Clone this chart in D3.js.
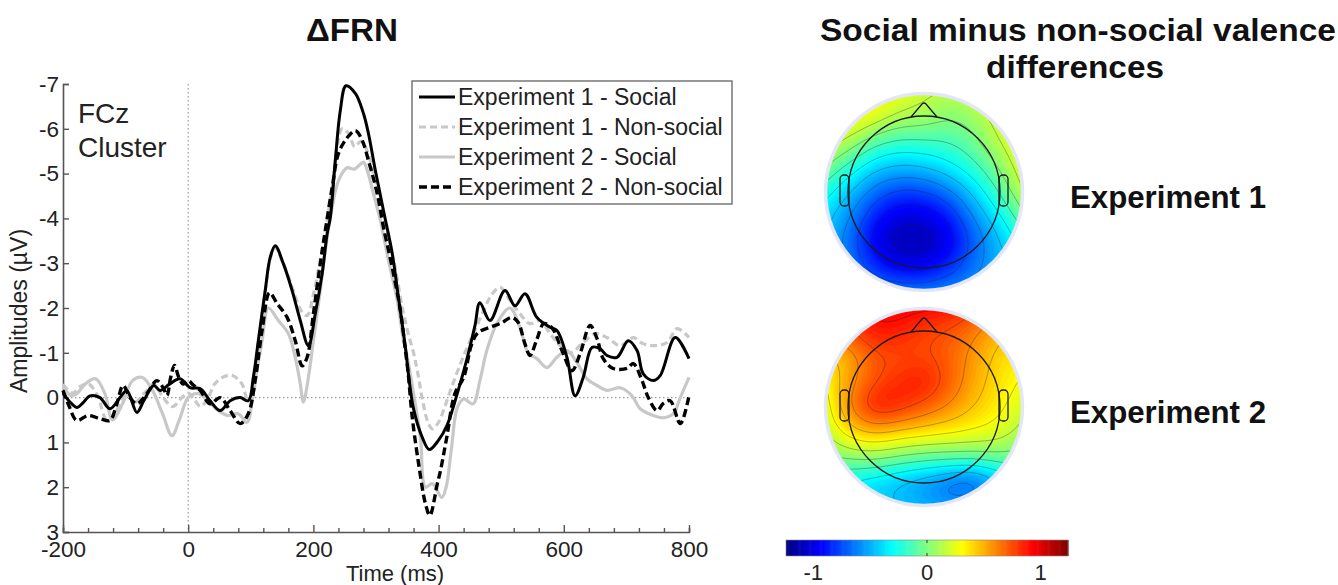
<!DOCTYPE html>
<html><head><meta charset="utf-8">
<script src="https://cdn.jsdelivr.net/npm/d3@7"></script>
<style>
body{margin:0;background:#fff;}
svg{display:block;font-family:"Liberation Sans",Arial,sans-serif;}
</style>
</head><body>
<svg id="c" width="1338" height="585"></svg>
<script>
// ---------- DATA ----------
const timeTickValues = [-200,0,200,400,600,800];
const ampTickValues = [-7,-6,-5,-4,-3,-2,-1,0,1,2,3];
const legendLabels = ["Experiment 1 - Social","Experiment 1 - Non-social","Experiment 2 - Social","Experiment 2 - Non-social"];

const exp1Social = [[-200,-0.1],[-190,0.08],[-178,0.22],[-167,0.1],[-157,-0.04],[-141,0],[-125,0.25],[-109,0],[-98,-0.16],[-82,0.33],[-71,0.07],[-55,-0.27],[-45,-0.16],[-30,-0.3],[-13,-0.42],[3,-0.22],[19,-0.2],[35,0.07],[51,0.29],[67,0.07],[83,0],[96,0.07],[104,-0.45],[112,-1.27],[123,-2.39],[131,-3.13],[139,-3.39],[152,-2.99],[166,-2.39],[179,-1.72],[192,-1.16],[203,-1.87],[214,-2.77],[222,-3.66],[227,-4.02],[235,-5.29],[243,-6.41],[252,-6.96],[267,-6.79],[280,-6.34],[288,-5.89],[299,-5.07],[312,-4.17],[326,-3.21],[335,-2.32],[347,-1.12],[352,-0.5],[360,0.25],[374,0.89],[385,1.16],[400,0.95],[414,0.6],[430,-0.1],[445,-0.85],[458,-1.6],[466,-2.12],[482,-1.72],[506,-2.39],[522,-2.05],[538,-2.32],[557,-1.79],[578,-1.57],[589,-1.5],[605,-0.9],[618,-0.04],[631,-0.45],[645,-1.12],[658,-1.09],[669,-0.94],[685,-0.9],[703,-1.27],[717,-1.05],[727,-0.53],[743,-0.38],[754,-0.49],[778,-1.34],[800,-0.87]];

const exp1NonSocial = [[-200,-0.3],[-185,-0.1],[-172,-0.25],[-160,-0.31],[-145,-0.05],[-130,0.5],[-115,0.3],[-100,-0.1],[-85,0.1],[-70,-0.1],[-55,-0.3],[-40,0],[-25,0.2],[-10,0],[0,-0.1],[10,0.05],[20,0.2],[32,0.0],[42,-0.3],[55,-0.45],[70,-0.5],[86,-0.3],[95,0.05],[101,0.05],[112,-1.2],[123,-2.35],[131,-3.1],[139,-3.35],[150,-3.05],[160,-2.7],[170,-2.3],[180,-1.95],[190,-1.83],[200,-2.3],[210,-3.0],[220,-3.8],[230,-4.7],[238,-5.6],[246,-6.0],[256,-5.9],[266,-5.6],[276,-5.72],[286,-5.5],[296,-5.0],[308,-4.3],[320,-3.6],[332,-2.8],[342,-2.0],[352,-1.4],[360,-1.0],[366,-0.6],[375,0.1],[383,0.55],[390,0.7],[400,0.55],[410,0.2],[420,-0.2],[432,-0.65],[445,-1.1],[458,-1.5],[472,-1.95],[485,-2.3],[498,-2.46],[514,-2.17],[530,-1.87],[546,-1.65],[562,-1.72],[578,-1.43],[594,-1.16],[610,-1.0],[631,-1.23],[650,-1.43],[669,-1.34],[690,-1.16],[711,-1.34],[727,-1.2],[746,-1.16],[765,-1.23],[781,-1.54],[800,-1.34]];

const exp2Social = [[-200,-0.27],[-188,-0.05],[-178,-0.09],[-164,-0.31],[-148,-0.42],[-133,-0.09],[-121,0.5],[-105,0.14],[-89,-0.38],[-73,-0.45],[-57,-0.16],[-41,0.36],[-26,0.85],[-13,0.45],[0,0],[16,-0.09],[32,0.07],[48,0.29],[64,0.4],[80,0.36],[94,0.55],[104,-0.16],[118,-1.27],[128,-2.0],[144,-1.72],[160,-1.43],[171,-0.9],[179,-0.31],[184,0.1],[192,-0.45],[200,-1.27],[211,-2.39],[219,-3.28],[228,-4.1],[240,-4.84],[254,-5.13],[265,-5.1],[280,-5.25],[286,-5.07],[296,-4.55],[307,-3.95],[320,-3.06],[334,-2.17],[344,-1.27],[350,-0.9],[360,-0.09],[371,0.89],[379,2.0],[390,1.92],[405,2.23],[412,2.0],[420,1.2],[430,0.22],[440,0.03],[455,0.14],[466,-0.38],[477,-1.05],[493,-1.65],[514,-2.0],[530,-1.56],[543,-1.0],[557,-0.87],[573,-0.67],[589,-0.9],[605,-1.05],[621,-0.78],[637,-0.42],[653,-0.27],[669,-0.16],[690,-0.22],[709,-0.04],[722,0.25],[743,0.4],[759,0.45],[775,0.36],[786,0],[800,-0.45]];

const exp2NonSocial = [[-200,-0.16],[-190,0.2],[-178,0.51],[-160,0.4],[-141,0.47],[-125,0.51],[-114,0.14],[-104,-0.27],[-93,0],[-82,0.14],[-66,-0.09],[-50,-0.38],[-40,-0.22],[-34,-0.05],[-28,-0.45],[-22,-0.72],[-15,-0.45],[-8,-0.3],[0,-0.38],[8,-0.28],[19,-0.16],[35,0.14],[51,0],[67,0.29],[83,0.58],[96,0.36],[107,-0.38],[118,-1.5],[130,-2.34],[142,-2.1],[158,-1.79],[171,-1.27],[182,-0.71],[190,-0.9],[200,-1.87],[211,-2.99],[219,-3.73],[230,-4.69],[240,-5.45],[254,-5.8],[267,-5.96],[278,-5.74],[288,-5.29],[302,-4.55],[312,-3.8],[326,-2.9],[339,-1.94],[347,-1.05],[351,-0.6],[358,0.45],[368,1.47],[379,2.37],[386,2.63],[398,1.92],[403,1.63],[413,0.89],[426,-0.09],[440,-0.45],[453,-1.2],[463,-1.45],[482,-1.57],[501,-1.67],[517,-1.79],[527,-1.68],[538,-1.2],[546,-0.94],[557,-1.3],[568,-1.65],[581,-1.56],[597,-1.05],[613,-0.6],[626,-0.98],[642,-1.61],[653,-1.32],[663,-0.87],[679,-0.65],[701,-0.65],[711,-0.76],[725,-0.38],[735,0],[749,0.29],[759,0.13],[770,0.07],[786,0.58],[800,-0.04]];

// Topographic maps: 9x9 grid of differences (µV), rows front(top) -> back, columns left -> right
const topoExp1 = [
 [0.4,0.4,0.35,0.25,0.18,0.12,0.2,0.3,0.35],
 [0.38,0.35,0.25,0.12,0.1,0.0,0.05,0.22,0.32],
 [0.25,0.1,-0.12,-0.2,-0.18,-0.15,-0.05,0.15,0.3],
 [0.0,-0.22,-0.42,-0.48,-0.45,-0.35,-0.2,0.0,0.25],
 [-0.25,-0.45,-0.68,-0.8,-0.78,-0.65,-0.42,-0.15,0.15],
 [-0.4,-0.6,-0.88,-1.02,-1.02,-0.9,-0.6,-0.35,-0.05],
 [-0.45,-0.68,-0.98,-1.15,-1.15,-1.0,-0.72,-0.48,-0.25],
 [-0.5,-0.62,-0.85,-0.98,-0.98,-0.85,-0.65,-0.5,-0.38],
 [-0.5,-0.55,-0.6,-0.65,-0.65,-0.6,-0.55,-0.5,-0.45]
];
const topoExp2 = [
 [0.7,0.85,0.95,0.95,0.92,0.9,0.8,0.6,0.5],
 [0.6,0.75,0.88,0.86,0.76,0.72,0.62,0.48,0.38],
 [0.38,0.5,0.72,0.74,0.76,0.7,0.55,0.4,0.35],
 [0.3,0.55,0.74,0.84,0.9,0.72,0.52,0.38,0.28],
 [0.22,0.64,0.92,0.86,0.72,0.6,0.45,0.35,0.2],
 [0.15,0.4,0.5,0.42,0.38,0.34,0.3,0.25,0.1],
 [-0.02,0.05,0.08,0.0,-0.05,-0.05,-0.05,-0.02,-0.05],
 [-0.25,-0.35,-0.42,-0.5,-0.58,-0.7,-0.78,-0.5,-0.3],
 [-0.3,-0.35,-0.4,-0.45,-0.5,-0.55,-0.5,-0.4,-0.3]
];
const topoLabels = ["Experiment 1","Experiment 2"];
const colorbarTickValues = [-1,0,1];
const colorLimit = 1.24;

// ---------- DRAW ----------
const svg = d3.select("#c");
const x = d3.scaleLinear().domain([-200,800]).range([63,689]);
const y = d3.scaleLinear().domain([-7,3]).range([84,532]);
const GREY = "#c8c8c8";
const seriesList = [
  {data: exp2Social, color: GREY, dash: null, w: 3.2},
  {data: exp1NonSocial, color: GREY, dash: "7,4", w: 3.2},
  {data: exp2NonSocial, color: "#000", dash: "8,4", w: 3.4},
  {data: exp1Social, color: "#000", dash: null, w: 3.0}
];
const legendStyle = [seriesList[3], seriesList[1], seriesList[0], seriesList[2]];
const fmt = d => String(d);

// Titles
const titleStyle = s => s.attr("font-weight","bold").attr("fill","#111").attr("text-anchor","middle");
svg.append("text").attr("x",352).attr("y",41).attr("font-size",31).call(titleStyle)
  .attr("textLength",92).attr("lengthAdjust","spacingAndGlyphs").text("ΔFRN");
svg.append("text").attr("x",1078).attr("y",41).attr("font-size",31).call(titleStyle)
  .attr("textLength",516).attr("lengthAdjust","spacingAndGlyphs").text("Social minus non-social valence");
svg.append("text").attr("x",1075).attr("y",78).attr("font-size",31).call(titleStyle)
  .attr("textLength",178).attr("lengthAdjust","spacingAndGlyphs").text("differences");

// dotted reference lines
svg.append("line").attr("x1",x(0)).attr("x2",x(0)).attr("y1",y(-7)).attr("y2",y(3))
  .attr("stroke","#999").attr("stroke-width",1.2).attr("stroke-dasharray","1.5,2.5");
svg.append("line").attr("x1",x(-200)).attr("x2",x(800)).attr("y1",y(0)).attr("y2",y(0))
  .attr("stroke","#999").attr("stroke-width",1.2).attr("stroke-dasharray","1.5,2.5");

// axes
const yAxis = svg.append("g").attr("transform",`translate(${x(-200)},0)`)
  .call(d3.axisLeft(y).tickValues(ampTickValues).tickSize(-6).tickPadding(4).tickFormat(fmt));
const xAxis = svg.append("g").attr("transform",`translate(0,${y(3)})`)
  .call(d3.axisBottom(x).tickValues(d3.range(-200,801,40)).tickSize(-4).tickPadding(9)
    .tickFormat(d => timeTickValues.includes(d) ? fmt(d) : ""));
xAxis.selectAll(".tick line").filter(d => timeTickValues.includes(d)).attr("y2",-7);
[yAxis,xAxis].forEach(g => {
  g.select(".domain").attr("stroke","#555").attr("stroke-width",1.6);
  g.selectAll(".tick line").attr("stroke","#555").attr("stroke-width",1.4);
  g.selectAll(".tick text").attr("font-size",22.5).attr("fill","#222").attr("font-family","Liberation Sans, Arial, sans-serif");
});
xAxis.selectAll(".tick text").attr("dy","0.71em");

// axis labels
svg.append("text").attr("transform","translate(27,311) rotate(-90)").attr("text-anchor","middle")
  .attr("font-size",23).attr("fill","#222").text("Amplitudes (µV)");
svg.append("text").attr("x",395).attr("y",581).attr("text-anchor","middle")
  .attr("font-size",22).attr("fill","#222").text("Time (ms)");

// FCz cluster
svg.append("text").attr("x",78).attr("y",123).attr("font-size",28).attr("fill","#222").text("FCz");
svg.append("text").attr("x",78).attr("y",157).attr("font-size",28).attr("fill","#222").text("Cluster");

// lines
const line = d3.line().x(d=>x(d[0])).y(d=>y(d[1])).curve(d3.curveCatmullRom.alpha(0.5));
svg.append("g").selectAll("path").data(seriesList).join("path")
  .attr("d", d => line(d.data)).attr("fill","none")
  .attr("stroke", d=>d.color).attr("stroke-width", d=>d.w)
  .attr("stroke-dasharray", d=>d.dash).attr("stroke-linejoin","round");

// legend
const lg = svg.append("g");
lg.append("rect").attr("x",412).attr("y",81).attr("width",320).attr("height",123)
  .attr("fill","#fff").attr("stroke","#555").attr("stroke-width",1.2);
legendLabels.forEach((lab,i) => {
  const yy = 97 + i*30;
  const st = legendStyle[i];
  lg.append("line").attr("x1",419).attr("x2",455).attr("y1",yy).attr("y2",yy)
    .attr("stroke",st.color).attr("stroke-width",st.w).attr("stroke-dasharray",st.dash);
  lg.append("text").attr("x",458).attr("y",yy).attr("dy","0.36em")
    .attr("font-size",23).attr("fill","#222").text(lab);
});

// ---------- TOPOGRAPHIC MAPS ----------
function jet(t){
  const c = v => Math.max(0, Math.min(1, v));
  const r = c(1.5 - Math.abs(4*t-3)), g = c(1.5 - Math.abs(4*t-2)), b = c(1.5 - Math.abs(4*t-1));
  return d3.rgb(r*255, g*255, b*255).toString();
}
const colorScale = d3.scaleSequential(jet).domain([-colorLimit, colorLimit]);

function smoothGrid(grid, n){
  const rowFns = grid.map(r => d3.interpolateBasis(r));
  const values = new Array(n*n);
  for (let i=0;i<n;i++){
    const u = i/(n-1);
    const cf = d3.interpolateBasis(rowFns.map(f => f(u)));
    for (let j=0;j<n;j++) values[j*n+i] = cf(j/(n-1));
  }
  return values;
}

const maps = [{grid: topoExp1, cx: 924, cy: 192}, {grid: topoExp2, cx: 924, cy: 407}];
const R = 97, RH = 76, N = 140;
const defs = svg.append("defs");
maps.forEach((m, k) => {
  const id = "clip" + k;
  defs.append("clipPath").attr("id", id).append("circle").attr("cx", m.cx).attr("cy", m.cy).attr("r", R);
  const vals = smoothGrid(m.grid, N);
  const ext = R * 1.02;
  const proj = d3.geoIdentity().scale(2*ext/(N-1)).translate([m.cx - ext, m.cy - ext]);
  const path = d3.geoPath(proj);
  const step = 0.025;
  const fillThr = d3.range(-1.6, 1.6, step);
  const g = svg.append("g").attr("clip-path", `url(#${id})`);
  g.append("circle").attr("cx", m.cx).attr("cy", m.cy).attr("r", R).attr("fill", colorScale(d3.min(vals)));
  const shiftT = "translate(" + (-ext/(N-1)) + "," + (-ext/(N-1)) + ")";
  const bands = d3.contours().size([N, N]).thresholds(fillThr)(vals);
  g.selectAll("path.band").data(bands).join("path").attr("class","band")
    .attr("transform", shiftT)
    .attr("d", path).attr("fill", d => colorScale(d.value + step/2)).attr("stroke", d => colorScale(d.value + step/2)).attr("stroke-width",0.6);
  const lines = d3.contours().size([N, N]).thresholds(d3.range(-1.2, 1.21, 0.15))(vals);
  g.selectAll("path.iso").data(lines).join("path").attr("class","iso")
    .attr("transform", shiftT)
    .attr("d", path).attr("fill","none").attr("stroke","rgba(30,30,30,0.4)").attr("stroke-width",0.8);
  // halo
  svg.append("circle").attr("cx", m.cx).attr("cy", m.cy).attr("r", R+1.5).attr("fill","none")
    .attr("stroke","#e3e6f7").attr("stroke-width",3.5);
  // head outline
  const hg = svg.append("g").attr("fill","none").attr("stroke","#1a1a1a").attr("stroke-width",1.3);
  hg.append("circle").attr("cx", m.cx).attr("cy", m.cy).attr("r", RH);
  const top = m.cy - RH;
  hg.append("path").attr("d", `M${m.cx-13},${top+1} L${m.cx-2},${top-12} Q${m.cx},${top-14} ${m.cx+2},${top-12} L${m.cx+13},${top+1}`);
  [-1, 1].forEach(s => {
    const x0 = s < 0 ? m.cx - RH - 8 : m.cx + RH - 1;
    hg.append("rect").attr("x", x0).attr("y", m.cy - 17).attr("width", 9).attr("height", 31).attr("rx", 4);
  });
  svg.append("text").attr("x",1070).attr("y", m.cy + 16).attr("font-size",31).attr("font-weight","bold")
    .attr("fill","#111").attr("textLength",196).attr("lengthAdjust","spacingAndGlyphs").text(topoLabels[k]);
});

// colorbar
const cbx = d3.scaleLinear().domain([-colorLimit, colorLimit]).range([786, 1068]);
const cb = svg.append("g");
const cbSteps = d3.range(-colorLimit, colorLimit, 2*colorLimit/256);
cb.selectAll("rect").data(cbSteps).join("rect")
  .attr("x", d => cbx(d)).attr("y", 540).attr("width", (cbx(colorLimit)-cbx(-colorLimit))/256 + 0.6).attr("height", 16)
  .attr("fill", d => colorScale(d + colorLimit/256));
cb.append("rect").attr("x",786).attr("y",540).attr("width",282).attr("height",16).attr("fill","none")
  .attr("stroke","#888").attr("stroke-width",0.6);
cb.append("line").attr("x1",cbx(0)).attr("x2",cbx(0)).attr("y1",540).attr("y2",543).attr("stroke","#333");
cb.append("line").attr("x1",cbx(0)).attr("x2",cbx(0)).attr("y1",553).attr("y2",556).attr("stroke","#333");
cb.selectAll("text").data(colorbarTickValues).join("text")
  .attr("x", d => cbx(d)).attr("y", 580).attr("text-anchor","middle").attr("font-size",22).attr("fill","#222")
  .text(fmt);
</script>
</body></html>
